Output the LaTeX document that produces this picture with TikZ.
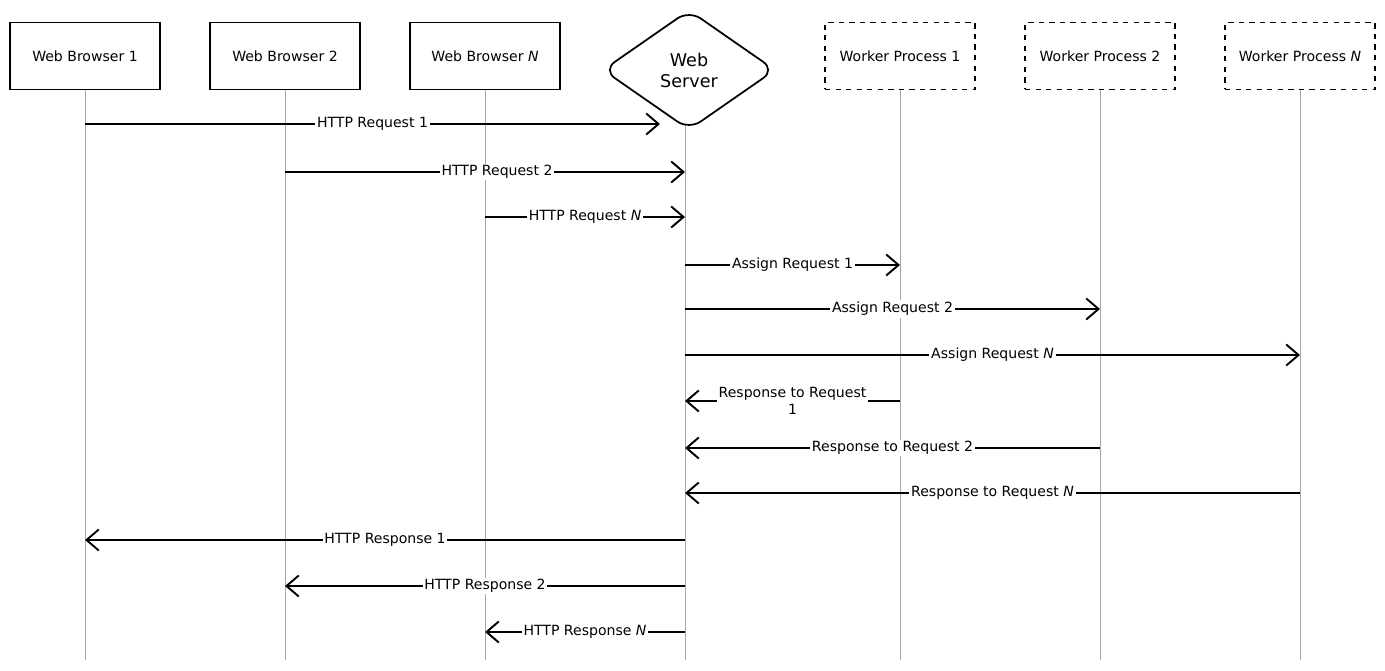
\documentclass[tikz,border=0pt]{standalone}
\usepackage{fontspec}
\setmainfont{DejaVu Sans}
\usetikzlibrary{shapes.geometric,arrows.meta}
\begin{document}
\begin{tikzpicture}[x=0.02cm,y=-0.02cm,font=\footnotesize,
  actor/.style={draw,line width=1pt,minimum width=3cm,minimum height=1.34cm},
  worker/.style={actor,dashed},
  life/.style={gray!70,line width=0.5pt},
  msg/.style={line width=1.1pt,-{Straight Barb[length=7pt,width=12pt]}},
  lbl/.style={fill=white,inner sep=1pt}]
\useasboundingbox (0,0) rectangle (1385,671);
% participants
\node[actor] (b1) at (85,56) {Web Browser 1};
\node[actor] (b2) at (285,56) {Web Browser 2};
\node[actor] (bn) at (485,56) {Web Browser \textit{N}};
\node[diamond,draw,line width=1pt,rounded corners=8pt,aspect=1.45,minimum width=3.45cm,minimum height=2.4cm,align=center,font=\normalsize,inner sep=1pt] (ws) at (689,70) {Web\\Server};
\node[worker] (w1) at (900,56) {Worker Process 1};
\node[worker] (w2) at (1100,56) {Worker Process 2};
\node[worker] (wn) at (1300,56) {Worker Process \textit{N}};
% lifelines
\foreach \n/\x in {b1/85,b2/285,bn/485,w1/900,w2/1100,wn/1300}
  \draw[life] (\n.south) -- (\x,660);
\coordinate (ws-end) at (685,660);
\draw[life] (685,126) -- (ws-end);
\foreach \n/\x in {b1/85,b2/285,bn/485,ws/685,w1/900,w2/1100,wn/1300}
  \foreach \y in {124,172,217,265,309,355,401,448,493,540,586,632}
    \coordinate (\n-\y) at (\x,\y);
% messages
\draw[msg] (b1-124) -- (660,124) node[lbl,pos=0.5] {HTTP Request 1};
\draw[msg] (b2-172) -- (ws-172) node[lbl,pos=0.53] {HTTP Request 2};
\draw[msg] (bn-217) -- (ws-217) node[lbl,pos=0.5] {HTTP Request \textit{N}};
\draw[msg] (ws-265) -- (w1-265) node[lbl,pos=0.5] {Assign Request 1};
\draw[msg] (ws-309) -- (w2-309) node[lbl,pos=0.5] {Assign Request 2};
\draw[msg] (ws-355) -- (wn-355) node[lbl,pos=0.5] {Assign Request \textit{N}};
\draw[msg] (w1-401) -- (ws-401) node[lbl,pos=0.5,align=center] {Response to Request\\1};
\draw[msg] (w2-448) -- (ws-448) node[lbl,pos=0.5] {Response to Request 2};
\draw[msg] (wn-493) -- (ws-493) node[lbl,pos=0.5] {Response to Request \textit{N}};
\draw[msg] (ws-540) -- (b1-540) node[lbl,pos=0.5] {HTTP Response 1};
\draw[msg] (ws-586) -- (b2-586) node[lbl,pos=0.5] {HTTP Response 2};
\draw[msg] (ws-632) -- (bn-632) node[lbl,pos=0.5] {HTTP Response \textit{N}};
\end{tikzpicture}
\end{document}
